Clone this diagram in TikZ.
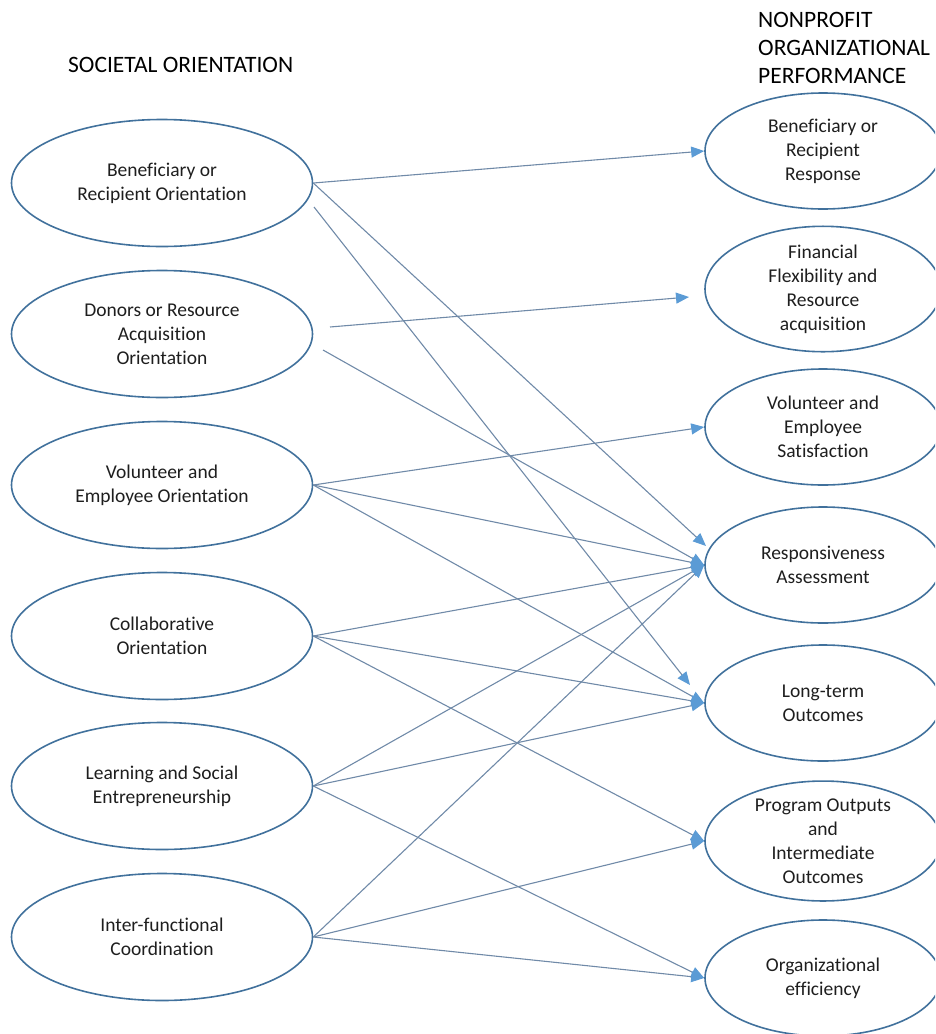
\documentclass[tikz,border=0pt]{standalone}
\usepackage{fontspec}
\setmainfont{Carlito}[Ligatures={NoCommon}]
\usetikzlibrary{shapes.geometric,arrows.meta}
\definecolor{rimblue}{RGB}{65,113,156}
\definecolor{linkblue}{RGB}{112,138,168}
\definecolor{tipblue}{RGB}{91,155,213}
\definecolor{inkgray}{RGB}{30,30,30}
\tikzset{
  leftbox/.style={ellipse, draw=rimblue, line width=1.6pt, minimum width=301pt,
    minimum height=127pt, inner sep=0pt, align=center, font=\fontsize{19.5}{24}\selectfont,
    text=inkgray},
  rightbox/.style={ellipse, draw=rimblue, line width=1.6pt, minimum width=236pt,
    minimum height=116pt, inner sep=0pt, align=center, font=\fontsize{19.5}{24}\selectfont,
    text=inkgray},
  heading/.style={font=\fontsize{23.5}{28}\selectfont, text=black, inner sep=0pt},
  conn/.style={draw=linkblue, line width=1.1pt,
    -{Triangle[length=13pt,width=11pt,color=tipblue]}}
}
\begin{document}
\begin{tikzpicture}[x=1pt,y=-1pt]
\useasboundingbox (0,0) rectangle (935,1034);
\clip (0,0) rectangle (935,1034);

% column headings
\node[heading, anchor=west] (hleft) at (68,65) {SOCIETAL ORIENTATION};
\node[heading, anchor=north west, align=left] (hright) at (758,12)
  {NONPROFIT\\ORGANIZATIONAL\\PERFORMANCE};

% societal orientation constructs
\node[leftbox] (L1) at (162,183) {Beneficiary or\\Recipient Orientation};
\node[leftbox] (L2) at (162,334) {Donors or Resource\\Acquisition\\Orientation};
\node[leftbox] (L3) at (162,485) {Volunteer and\\Employee Orientation};
\node[leftbox] (L4) at (162,636) {Collaborative\\Orientation};
\node[leftbox] (L5) at (162,786) {Learning and Social\\Entrepreneurship};
\node[leftbox] (L6) at (162,937) {Inter-functional\\Coordination};

% performance outcomes
\node[rightbox] (R1) at (823,151) {Beneficiary or\\Recipient\\Response};
\node[rightbox] (R2) at (823,289) {Financial\\Flexibility and\\Resource\\acquisition};
\node[rightbox] (R3) at (823,427) {Volunteer and\\Employee\\Satisfaction};
\node[rightbox] (R4) at (823,565) {Responsiveness\\Assessment};
\node[rightbox] (R5) at (823,703) {Long-term\\Outcomes};
\node[rightbox] (R6) at (823,841) {Program Outputs\\and\\Intermediate\\Outcomes};
\node[rightbox] (R7) at (823,978) {Organizational\\efficiency};

% loose connector ends
\coordinate (s1b) at (314,207);
\coordinate (s2a) at (330,327);
\coordinate (s2b) at (323,350);
\coordinate (e2a) at (689,297);
\coordinate (e4a) at (706,546);
\coordinate (e5a) at (690,685);

% links
\draw[conn] (L1.east) -- (R1.west);
\draw[conn] (L1.east) -- (e4a);
\draw[conn] (s1b) -- (e5a);

\draw[conn] (s2a) -- (e2a);
\draw[conn] (s2b) -- (R4.west);

\draw[conn] (L3.east) -- (R3.west);
\draw[conn] (L3.east) -- (R4.west);
\draw[conn] (L3.east) -- (R5.west);

\draw[conn] (L4.east) -- (R4.west);
\draw[conn] (L4.east) -- (R5.west);
\draw[conn] (L4.east) -- (R6.west);

\draw[conn] (L5.east) -- (R4.west);
\draw[conn] (L5.east) -- (R5.west);
\draw[conn] (L5.east) -- (R7.west);

\draw[conn] (L6.east) -- (R4.west);
\draw[conn] (L6.east) -- (R6.west);
\draw[conn] (L6.east) -- (R7.west);
\end{tikzpicture}
\end{document}
